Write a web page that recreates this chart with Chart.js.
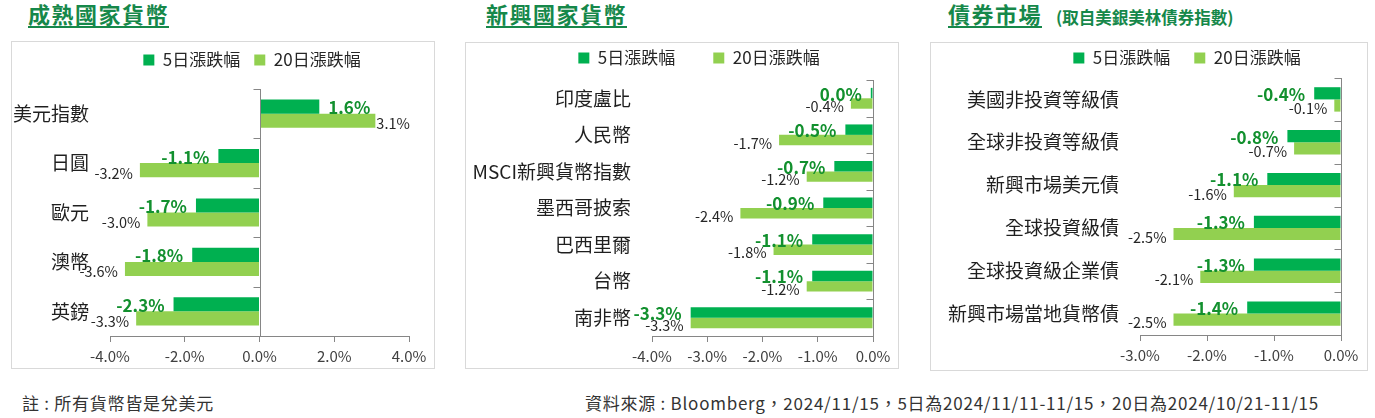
<!DOCTYPE html>
<html>
<head>
<meta charset="utf-8">
<script src="https://cdn.jsdelivr.net/npm/chart.js@4"></script>
<style>
  body { margin: 0; width: 1375px; height: 418px; background: #fff; position: relative; overflow: hidden;
         font-family: "Noto Sans CJK TC", "Noto Sans", sans-serif; }
  .title { position: absolute; top: 1px; font-size: 22px; font-weight: bold; color: #16884a;
           letter-spacing: 1.5px; border-bottom: 2px solid #16884a; line-height: 25px; padding-bottom: 0; }
  .sub { position: absolute; top: 5px; left: 1056px; font-size: 16.5px; font-weight: bold; color: #16884a; }
  .box { position: absolute; border: 1px solid #d9d9d9; box-sizing: border-box; }
  canvas { position: absolute; }
  .foot { position: absolute; top: 390px; font-size: 17px; letter-spacing: 0.75px; color: #333; white-space: nowrap; }
</style>
</head>
<body>
<div class="title" style="left:28px">成熟國家貨幣</div>
<div class="title" style="left:486px">新興國家貨幣</div>
<div class="title" style="left:948px">債券市場</div>
<div class="sub">(取自美銀美林債券指數)</div>

<div class="box" style="left:11px;top:41px;width:424px;height:328px"></div>
<canvas id="c1" width="424" height="328" style="left:11px;top:41px"></canvas>
<div class="box" style="left:465px;top:42px;width:434px;height:327px"></div>
<canvas id="c2" width="434" height="327" style="left:465px;top:42px"></canvas>
<div class="box" style="left:930px;top:42px;width:438px;height:329px"></div>
<canvas id="c3" width="438" height="329" style="left:930px;top:42px"></canvas>

<div class="foot" style="left:22px">註 : 所有貨幣皆是兌美元</div>
<div class="foot" style="left:585px">資料來源 : Bloomberg，2024/11/15，5日為2024/11/11-11/15，20日為2024/10/21-11/15</div>

<script>
const seriesNames = ["5日漲跌幅", "20日漲跌幅"];
const seriesColors = ["#00b050", "#92d050"];

const matureLabels = ["美元指數", "日圓", "歐元", "澳幣", "英鎊"];
const mature5d = [1.6, -1.1, -1.7, -1.8, -2.3];
const mature20d = [3.1, -3.2, -3.0, -3.6, -3.3];
const matureTicks = [-4, -2, 0, 2, 4];

const emergingLabels = ["印度盧比", "人民幣", "MSCI新興貨幣指數", "墨西哥披索", "巴西里爾", "台幣", "南非幣"];
const emerging5d = [-0.04, -0.5, -0.7, -0.9, -1.1, -1.1, -3.3];
const emerging20d = [-0.4, -1.7, -1.2, -2.4, -1.8, -1.2, -3.3];
const emergingTicks = [-4, -3, -2, -1, 0];

const bondLabels = ["美國非投資等級債", "全球非投資等級債", "新興市場美元債", "全球投資級債", "全球投資級企業債", "新興市場當地貨幣債"];
const bond5d = [-0.4, -0.8, -1.1, -1.3, -1.3, -1.4];
const bond20d = [-0.1, -0.7, -1.6, -2.5, -2.1, -2.5];
const bondTicks = [-3, -2, -1, 0];

const axisColor = "#868686";
Chart.defaults.font.family = '"Noto Sans CJK TC", "Noto Sans", sans-serif';

function pct(v) {
    return (Math.round(v * 10) / 10 + 0).toFixed(1) + "%";
}

// vertical axis line at zero with small ticks between categories
const zeroAxis = {
    id: "zeroAxis",
    afterDatasetsDraw(chart) {
        const { ctx, chartArea } = chart;
        const x = Math.round(chart.scales.x.getPixelForValue(0)) + 0.5;
        const yScale = chart.scales.y;
        ctx.save();
        ctx.strokeStyle = axisColor;
        ctx.lineWidth = 1;
        ctx.beginPath();
        ctx.moveTo(x, chartArea.top);
        ctx.lineTo(x, chartArea.bottom);
        for (let i = 0; i <= chart.data.labels.length; i++) {
            const ty = Math.round(yScale.getPixelForValue(i - 0.5)) + 0.5;
            ctx.moveTo(x - 7, ty);
            ctx.lineTo(x, ty);
        }
        ctx.stroke();
        ctx.restore();
    }
};

// value labels next to bar ends
const barLabels = {
    id: "barLabels",
    afterDatasetsDraw(chart) {
        const ctx = chart.ctx;
        chart.data.datasets.forEach((ds, di) => {
            const meta = chart.getDatasetMeta(di);
            ctx.save();
            if (di === 0) {
                ctx.font = 'bold 17px "Noto Sans CJK TC", "Noto Sans", sans-serif';
                ctx.fillStyle = "#12902e";
            } else {
                ctx.font = '14.5px "Noto Sans CJK TC", "Noto Sans", sans-serif';
                ctx.fillStyle = "#262626";
            }
            ctx.textBaseline = "middle";
            ctx.textAlign = "left";
            meta.data.forEach((bar, i) => {
                const v = ds.data[i];
                const txt = pct(v);
                const w = ctx.measureText(txt).width;
                let x;
                if (v < 0) x = bar.x - (di === 0 ? 9 : 7) - w;
                else x = bar.x + (di === 0 ? 9 : 1);
                ctx.fillText(txt, x, bar.y + (di === 0 ? 1 : 3));
            });
            ctx.restore();
        });
    }
};

// put the legend where the original has it
const legendPlace = {
    id: "legendPlace",
    beforeDraw(chart, args, opts) {
        const lg = chart.legend;
        const pad = lg.options.labels.padding;
        lg.left = opts.cx - 200;
        lg.right = opts.cx + 200;
        lg.top = opts.cy - pad - 8.5;
    }
};

function makeChart(id, labels, d5, d20, ticks, L) {
    return new Chart(document.getElementById(id), {
        type: "bar",
        data: {
            labels: labels,
            datasets: [
                { label: seriesNames[0], data: d5, backgroundColor: seriesColors[0] },
                { label: seriesNames[1], data: d20, backgroundColor: seriesColors[1] },
            ],
        },
        options: {
            indexAxis: "y",
            responsive: false,
            animation: false,
            events: [],
            categoryPercentage: 0.57,
            barPercentage: 1.0,
            layout: { padding: { left: 0, right: L.right, top: L.top - 10, bottom: L.bottom } },
            scales: {
                x: {
                    min: ticks[0],
                    max: ticks[ticks.length - 1],
                    afterFit: s => { s.height = 30; },
                    ticks: {
                        stepSize: ticks[1] - ticks[0],
                        callback: v => pct(v),
                        color: "#404040",
                        font: { size: 15 },
                        padding: 5,
                        maxRotation: 0,
                    },
                    grid: { drawOnChartArea: false, drawTicks: true, tickLength: 6, color: axisColor },
                    border: { color: axisColor },
                },
                y: {
                    afterFit: s => { s.width = L.left; },
                    ticks: { color: "#1f1f1f", font: { size: 19 }, padding: 21 },
                    grid: { display: false, drawTicks: false },
                    border: { display: false },
                },
            },
            plugins: {
                legend: {
                    position: "top",
                    maxHeight: 10,
                    labels: {
                        boxWidth: 11,
                        boxHeight: 11,
                        padding: L.gap,
                        color: "#262626",
                        font: { size: 17 },
                    },
                },
                tooltip: { enabled: false },
                legendPlace: { cx: L.cx, cy: L.cy },
            },
        },
        plugins: [zeroAxis, barLabels, legendPlace],
    });
}

makeChart("c1", matureLabels, mature5d, mature20d, matureTicks,
    { left: 99, right: 26, top: 48, bottom: 3, cx: 241, cy: 19, gap: 14 });
makeChart("c2", emergingLabels, emerging5d, emerging20d, emergingTicks,
    { left: 187, right: 26, top: 38, bottom: 3, cx: 234, cy: 16, gap: 38 });
makeChart("c3", bondLabels, bond5d, bond20d, bondTicks,
    { left: 210, right: 27, top: 36, bottom: 6, cx: 257, cy: 16, gap: 24 });
</script>
</body>
</html>
